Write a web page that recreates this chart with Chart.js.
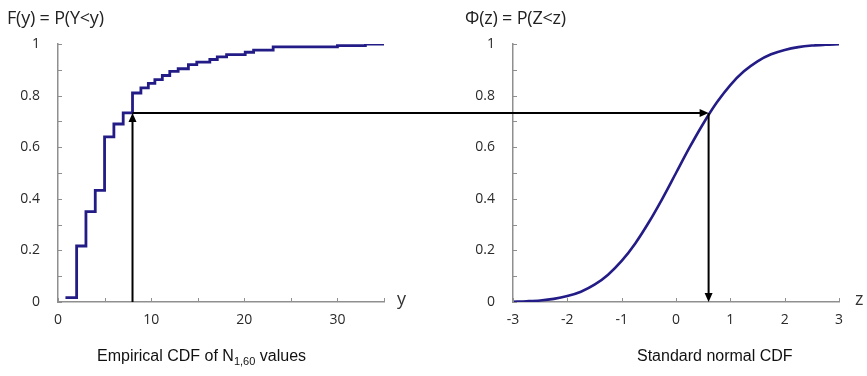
<!DOCTYPE html>
<html>
<head>
<meta charset="utf-8">
<script src="https://cdn.jsdelivr.net/npm/chart.js@4.4.1/dist/chart.umd.min.js"></script>
<style>
  html, body { margin: 0; padding: 0; background: #ffffff; }
  #wrap { position: relative; width: 867px; height: 376px; overflow: hidden; }
  canvas { position: absolute; left: 0; top: 0; }
  .lbl { position: absolute; white-space: nowrap; color: #222; }
  .title { font-family: "Open Sans", sans-serif; font-size: 18px; letter-spacing: -0.2px; }
  .axname { font-family: "Open Sans", sans-serif; font-size: 18px; color: #333; }
  .cap { font-family: "Liberation Sans Narrow", "Liberation Sans", sans-serif; font-size: 16px; color: #111; }
  .cap sub { font-size: 11px; vertical-align: -4px; line-height: 0; }
</style>
</head>
<body>
<div id="wrap">
  <canvas id="left" width="867" height="376"></canvas>
  <canvas id="right" width="867" height="376"></canvas>
  <div class="lbl title" style="left:7px; top:5px;">F(y) = P(Y&lt;y)</div>
  <div class="lbl title" style="left:465px; top:5px;">&Phi;(z) = P(Z&lt;z)</div>
  <div class="lbl axname" style="left:397px; top:286px;">y</div>
  <div class="lbl axname" style="left:855px; top:286px;">z</div>
  <div class="lbl cap" id="capL" style="left:97px; top:347px;">Empirical CDF of N<sub>1,60</sub> values</div>
  <div class="lbl cap" id="capR" style="left:637px; top:347px;">Standard normal CDF</div>
</div>
<script>
// ---- data ----
const empiricalY = [0.8, 2, 3, 4, 5, 6, 7, 8, 8.9, 9.7, 10.4, 11.2, 12, 12.9, 14, 14.9, 16.3, 17.1, 18.1, 20.1, 21, 23.1, 30, 33, 35];
const empiricalF = [0.017, 0.217, 0.35, 0.433, 0.64, 0.69, 0.733, 0.81, 0.83, 0.847, 0.862, 0.878, 0.894, 0.904, 0.92, 0.93, 0.94, 0.95, 0.959, 0.968, 0.976, 0.989, 0.994, 1.0, 1.0];

const normalZ   = [-3, -2.75, -2.5, -2.25, -2, -1.75, -1.5, -1.25, -1, -0.75, -0.5, -0.25, 0, 0.25, 0.5, 0.75, 1, 1.25, 1.5, 1.75, 2, 2.25, 2.5, 2.75, 3];
const normalPhi = [0.001, 0.003, 0.006, 0.012, 0.023, 0.040, 0.067, 0.106, 0.159, 0.227, 0.309, 0.401, 0.5, 0.599, 0.691, 0.773, 0.841, 0.894, 0.933, 0.960, 0.977, 0.988, 0.994, 0.997, 0.999];

const yTickValues = [0, 0.2, 0.4, 0.6, 0.8, 1];
const leftXTickValues = [0, 10, 20, 30];
const rightXTickValues = [-3, -2, -1, 0, 1, 2, 3];

// the arrow construction: y value on the left, probability level, z value on the right
const arrowYValue = 8;
const arrowLevel = 0.733;
const arrowZValue = 0.6;

// ---- styling ----
const lineColor = '#231c86';
const axisColor = '#8f8f8f';
const tickFont = { family: 'Open Sans', size: 14 };
const tickColor = '#2a2a2a';

Chart.defaults.animation = false;

const inwardTicks = {
  id: 'inwardTicks',
  afterDraw(chart) {
    const ctx = chart.ctx;
    const xs = chart.scales.x, ys = chart.scales.y;
    ctx.save();
    ctx.strokeStyle = axisColor;
    ctx.lineWidth = 1;
    ctx.beginPath();
    xs.ticks.forEach(t => {
      const px = Math.round(xs.getPixelForValue(t.value)) + 0.5;
      ctx.moveTo(px, xs.top);
      ctx.lineTo(px, xs.top - 4);
    });
    ys.ticks.forEach(t => {
      const py = Math.round(ys.getPixelForValue(t.value)) + 0.5;
      ctx.moveTo(ys.right, py);
      ctx.lineTo(ys.right + 4, py);
    });
    ctx.stroke();
    ctx.restore();
  }
};

function yScale() {
  return {
    type: 'linear', min: 0, max: 1,
    afterFit(s) { s.width = 40; },
    grid: { display: false },
    border: { display: true, color: axisColor, width: 1.5 },
    ticks: {
      stepSize: 0.1, padding: 10, color: tickColor, font: tickFont,
      callback(v) {
        const hit = yTickValues.find(t => Math.abs(t - v) < 1e-6);
        return hit === undefined ? '' : String(hit);
      }
    }
  };
}

function xScale(min, max, step, labels) {
  return {
    type: 'linear', min, max,
    afterFit(s) { s.height = 30; },
    grid: { display: false },
    border: { display: true, color: axisColor, width: 1.5 },
    ticks: {
      stepSize: step, padding: 2, color: tickColor, font: tickFont, maxRotation: 0,
      callback(v) {
        const hit = labels.find(t => Math.abs(t - v) < 1e-6);
        return hit === undefined ? '' : String(hit);
      }
    }
  };
}

const leftChart = new Chart(document.getElementById('left'), {
  type: 'line',
  data: {
    datasets: [{
      data: empiricalY.map((y, i) => ({ x: y, y: empiricalF[i] })),
      stepped: 'before',
      borderColor: lineColor,
      borderWidth: 2.8,
      pointRadius: 0,
      fill: false
    }]
  },
  options: {
    responsive: false,
    layout: { padding: { left: 18, right: 483, top: 44, bottom: 44 } },
    plugins: { legend: { display: false }, tooltip: { enabled: false } },
    scales: { x: xScale(0, 35, 5, leftXTickValues), y: yScale() }
  },
  plugins: [inwardTicks]
});

function arrowHead(ctx, x, y, dir) {
  const L = 9, W = 4;
  ctx.beginPath();
  if (dir === 'up') { ctx.moveTo(x, y); ctx.lineTo(x - W, y + L); ctx.lineTo(x + W, y + L); }
  if (dir === 'down') { ctx.moveTo(x, y); ctx.lineTo(x - W, y - L); ctx.lineTo(x + W, y - L); }
  if (dir === 'right') { ctx.moveTo(x, y); ctx.lineTo(x - L, y - W); ctx.lineTo(x - L, y + W); }
  ctx.closePath();
  ctx.fill();
}

const arrows = {
  id: 'arrows',
  afterDraw(chart) {
    const ctx = chart.ctx;
    const lx = leftChart.scales.x.getPixelForValue(arrowYValue);
    const ly = leftChart.scales.y.getPixelForValue(arrowLevel);
    const ly0 = leftChart.scales.y.getPixelForValue(0);
    const rx = chart.scales.x.getPixelForValue(arrowZValue);
    const ry = chart.scales.y.getPixelForValue(arrowLevel);
    const ry0 = chart.scales.y.getPixelForValue(0);
    ctx.save();
    ctx.strokeStyle = '#000';
    ctx.fillStyle = '#000';
    ctx.lineWidth = 2;
    ctx.beginPath();
    ctx.moveTo(lx, ly0);
    ctx.lineTo(lx, ly + 6);
    ctx.moveTo(lx, ly);
    ctx.lineTo(rx - 6, ry);
    ctx.moveTo(rx, ry);
    ctx.lineTo(rx, ry0 - 6);
    ctx.stroke();
    arrowHead(ctx, lx, ly, 'up');
    arrowHead(ctx, rx, ry, 'right');
    arrowHead(ctx, rx, ry0, 'down');
    ctx.restore();
  }
};

const rightChart = new Chart(document.getElementById('right'), {
  type: 'line',
  data: {
    datasets: [{
      data: normalZ.map((z, i) => ({ x: z, y: normalPhi[i] })),
      cubicInterpolationMode: 'monotone',
      borderColor: lineColor,
      borderWidth: 2.6,
      pointRadius: 0,
      fill: false
    }]
  },
  options: {
    responsive: false,
    layout: { padding: { left: 473, right: 28, top: 44, bottom: 44 } },
    plugins: { legend: { display: false }, tooltip: { enabled: false } },
    scales: { x: xScale(-3, 3, 1, rightXTickValues), y: yScale() }
  },
  plugins: [inwardTicks, arrows]
});
</script>
</body>
</html>
